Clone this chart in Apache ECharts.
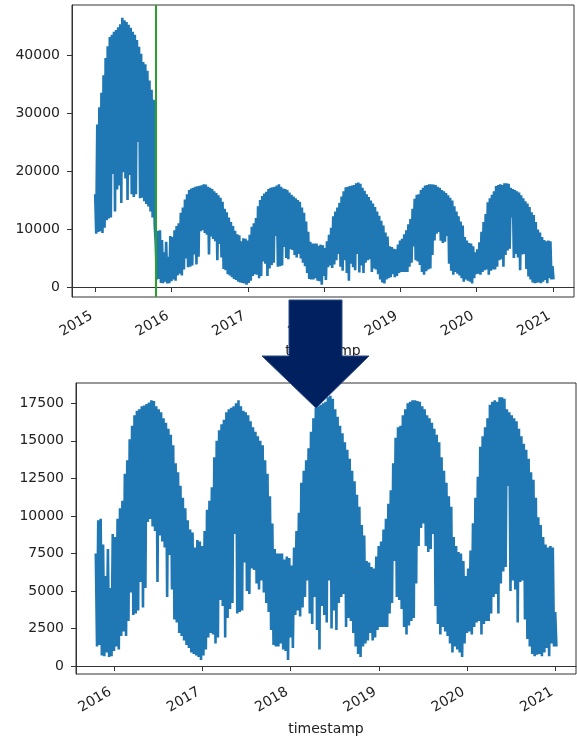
<!DOCTYPE html>
<html><head><meta charset="utf-8">
<script src="https://cdn.jsdelivr.net/npm/echarts@6/dist/echarts.min.js"></script>
<style>html,body{margin:0;padding:0;background:#fff}#c{width:577px;height:738px}</style>
</head><body><div id="c"></div>
<script>
// ---- data (10-day periods from 2015-01-01) ----
const startDate = [2015, 0, 1];
const stepDays = 10;
// upper envelope of each 10-day period
const upper = [
16000,28000,31000,33500,36500,39500,41500,43100,43500,44000,44300,44800,45300,46400,46000,45700,45200,44700,44000,43500,42600,41400,40200,38800,38400,37300,35600,34000,32300,
7500,9700,9800,8100,6000,7800,5200,8800,
8600,9800,10500,11000,12800,13700,15100,16000,16700,17000,17100,17300,17350,17450,17550,17700,17650,17300,17100,16900,16500,16200,15800,15400,14700,13500,12900,12000,11200,10500,9700,9100,8900,7900,8400,8300,8000,
9000,10400,11000,11900,13900,15000,15700,16100,16400,16900,17100,17200,17300,17500,17700,17300,17000,16900,16700,16300,15900,15600,15300,15000,14700,13700,12800,11300,9500,7800,7500,7500,7500,7100,7300,7200,6700,
7900,9000,10200,12200,13000,13700,14500,15600,16500,17200,17300,17400,17500,17600,17900,18000,17800,17100,16600,16000,15500,14900,14400,13800,13000,12300,11400,10600,9400,8700,7000,6900,6600,6500,7300,8000,
8300,9100,9800,10800,11700,13500,15200,15900,16000,16700,17100,17500,17600,17700,17700,17650,17600,17300,17100,16700,16500,16200,15800,15400,14900,13900,13000,12200,11300,10600,8600,8000,7600,7500,7000,6000,
6500,7700,9500,11200,12600,14600,15300,15900,16500,17400,17600,17700,17600,17900,17900,17800,17100,16900,16700,16500,16300,15800,15300,14800,14400,13800,12900,12400,11200,9900,9400,8600,8100,7900,8000,7900,3600
];
// lower envelope of each 10-day period
const lower = [
9200,9500,9600,9300,10200,11500,11800,12000,19500,13000,16800,17500,14500,19800,18700,15000,19300,16000,15500,16000,25000,15300,15400,14800,14300,13900,13000,12000,10800,
1300,1400,700,650,900,600,650,1000,
1300,1100,2000,2300,2000,3000,4900,3400,3500,3700,5600,3900,5200,9600,9800,9300,9000,5600,8700,8300,7900,4600,7400,5100,3100,2900,2200,2000,1700,1400,1200,900,800,700,600,400,700,
1100,1900,2200,2100,1500,1900,4400,4000,1900,3200,3800,4200,8800,3500,3600,3700,6900,5000,4800,6500,6400,5500,5100,5700,4900,4200,3600,2400,1400,1300,1300,1500,1100,1000,400,1900,1200,
3400,3700,3300,3900,4600,5700,3500,2800,4600,2400,1100,4000,3400,2900,5700,2500,3700,2400,4200,4600,4800,2600,3200,3000,2200,1300,800,600,1300,1500,1700,2200,1700,1900,2400,2600,
2600,2600,2600,3500,4200,7000,4600,4400,3800,2600,2100,2700,3000,3200,5500,8000,9200,9500,8000,7600,7800,8800,4000,2800,2100,2600,2300,2000,1500,900,1300,1100,900,600,1500,2200,
2300,2100,2600,2900,3000,2100,2800,3000,3000,3500,4600,4800,3500,5500,6300,6600,12000,5000,5700,5100,2900,5600,5700,3100,1800,1300,800,650,750,800,650,900,1200,650,1500,1300,1300
];
const cutoffDate = [2015, 9, 18];
const yearTicks = [2015, 2016, 2017, 2018, 2019, 2020, 2021];
const topYTicks = [0, 10000, 20000, 30000, 40000];
const bottomYTicks = [0, 2500, 5000, 7500, 10000, 12500, 15000, 17500];
const xName = 'timestamp';

// ---- build series ----
function day(y, m, d) { return Date.UTC(y, m, d); }
const points = [];
upper.forEach((u, i) => {
  points.push([day(startDate[0], startDate[1], startDate[2] + i * stepDays), u]);
  points.push([day(startDate[0], startDate[1], startDate[2] + i * stepDays + 5), lower[i]]);
});
const cutoff = day(cutoffDate[0], cutoffDate[1], cutoffDate[2]);
const bottomPoints = points.filter(p => p[0] >= cutoff);
const yearVals = yearTicks.map(y => day(y, 0, 1));

const textColor = '#222';
const font = 'DejaVu Sans';
const fs = 14;

function xAxis(gridIndex, min, max, nameGap, margin) {
  return {
    type: 'value', gridIndex, min, max,
    name: xName, nameLocation: 'middle', nameGap,
    nameTextStyle: { color: textColor, fontFamily: font, fontSize: fs },
    axisLine: { show: true, lineStyle: { color: '#333', width: 1 } },
    axisTick: { show: true, length: 5, lineStyle: { color: '#333' }, customValues: yearVals },
    axisLabel: { show: true, rotate: 30, margin, verticalAlign: 'bottom', color: textColor, fontFamily: font, fontSize: fs,
      customValues: yearVals, formatter: v => String(new Date(v).getUTCFullYear()) },
    splitLine: { show: false }
  };
}
function yAxis(gridIndex, min, max, ticks) {
  return {
    type: 'value', gridIndex, min, max,
    axisLine: { show: true, lineStyle: { color: '#333', width: 1 } },
    axisTick: { show: true, length: 5, lineStyle: { color: '#333' }, customValues: ticks },
    axisLabel: { show: true, margin: 12, color: textColor, fontFamily: font, fontSize: fs, customValues: ticks,
      formatter: v => String(v) },
    splitLine: { show: false }
  };
}

const chart = echarts.init(document.getElementById('c'), null, { renderer: 'canvas' });
chart.setOption({
  animation: false,
  backgroundColor: '#fff',
  grid: [
    { left: 72, top: 5, width: 502, height: 292, show: true, borderColor: '#333', borderWidth: 1 },
    { left: 76, top: 383, width: 500, height: 291, show: true, borderColor: '#333', borderWidth: 1 }
  ],
  xAxis: [
    xAxis(0, day(2014, 8, 12), day(2021, 3, 12), 47, 24),
    xAxis(1, day(2015, 6, 28), day(2021, 2, 26), 48, 23)
  ],
  yAxis: [
    yAxis(0, -1724, 48620, topYTicks),
    yAxis(1, -533, 18852, bottomYTicks)
  ],
  series: [
    { type: 'line', xAxisIndex: 0, yAxisIndex: 0, data: points, showSymbol: false, sampling: null,
      lineStyle: { color: '#1f77b4', width: 2.6 }, itemStyle: { color: '#1f77b4' },
      markLine: { silent: true, symbol: ['none', 'none'], label: { show: false },
        lineStyle: { color: '#2ca02c', width: 2, type: 'solid' }, data: [{ xAxis: cutoff }] } },
    { type: 'line', xAxisIndex: 1, yAxisIndex: 1, data: bottomPoints, showSymbol: false, sampling: null,
      lineStyle: { color: '#1f77b4', width: 2.6 }, itemStyle: { color: '#1f77b4' } }
  ],
  graphic: [{
    type: 'polygon', z: 100,
    shape: { points: [[289, 300], [342, 300], [342, 356], [369, 356], [316, 408], [262, 356], [289, 356]] },
    style: { fill: '#002060', stroke: '#2d4a86', lineWidth: 1 }
  }]
});
</script></body></html>
